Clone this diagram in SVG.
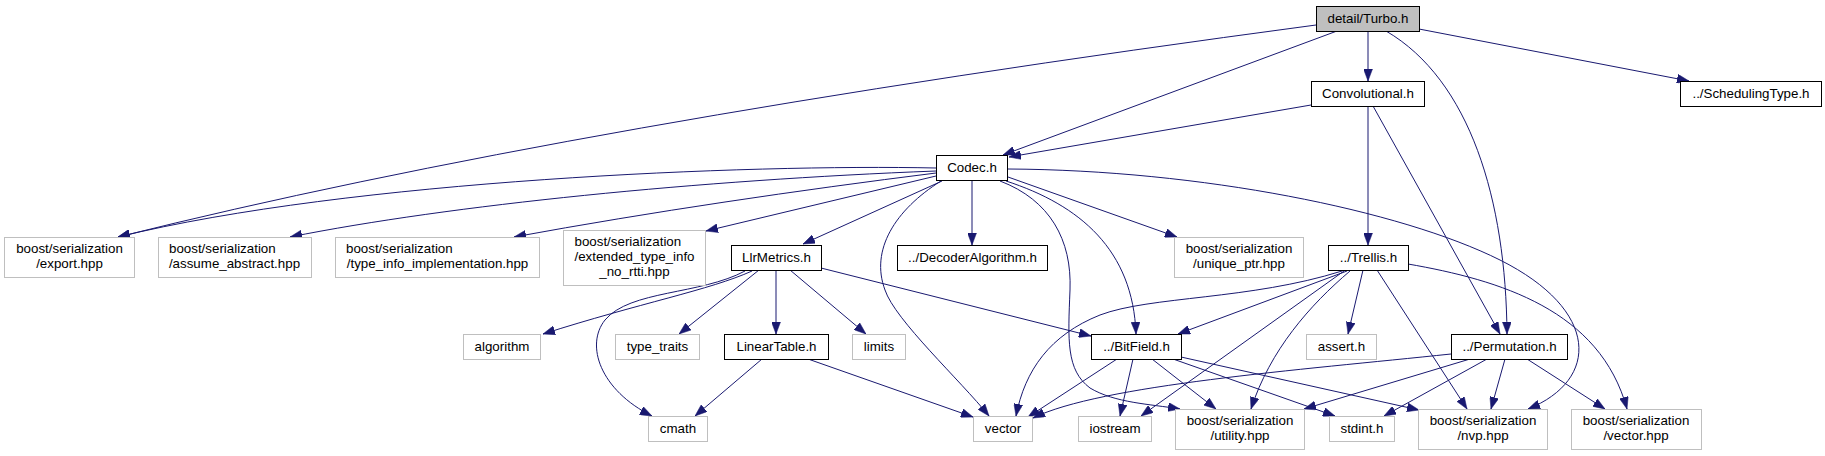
<svg xmlns="http://www.w3.org/2000/svg" width="1825" height="456" viewBox="0 0 1825 456">
<style>
.n rect{fill:#fff;stroke:#000;stroke-width:1}
.g rect{fill:#fff;stroke:#bfbfbf;stroke-width:1}
.root rect{fill:#bfbfbf;stroke:#000;stroke-width:1}
text{font-family:"Liberation Sans",Arial,Helvetica,sans-serif;font-size:13.33px;fill:#000}
.c{text-anchor:middle}
#edges path{fill:none;stroke:#191970;stroke-width:1;marker-end:url(#arr)}
</style>
<defs>
<marker id="arr" markerUnits="userSpaceOnUse" markerWidth="12" markerHeight="9" viewBox="0 0 12 9" refX="12" refY="4.5" orient="auto">
<path d="M0,0 L12,4.5 L0,9 z" fill="#191970" stroke="#191970" stroke-width="0.5"/>
</marker>
</defs>
<rect width="1825" height="456" fill="#fff"/>
<g id="edges">
<path d="M1316,25 Q566,125 118,237"/>
<path d="M936,168 C750,164 350,180 118,237"/>
<path d="M936,171 C700,180 450,205 290,237"/>
<path d="M936,173 C800,190 650,212 514,237"/>
<path d="M936,176 L706,231"/>
<path d="M942,181 L803,244"/>
<path d="M941,181 C895,210 870,250 885,290 C895,320 960,380 989,416"/>
<path d="M972,181 L972,245"/>
<path d="M1000,181 C1050,200 1072,240 1070,290 C1068,340 1066,370 1090,388 C1115,403 1150,404 1180,409"/>
<path d="M1006,181 C1080,205 1133,250 1136,334"/>
<path d="M1008,177 L1177,237"/>
<path d="M1008,169 C1200,170 1400,210 1500,260 C1600,310 1600,380 1528,409"/>
<path d="M1337,31 L1003,155"/>
<path d="M1311,105 L1009,157"/>
<path d="M1368,31 L1368,81"/>
<path d="M1386,31 C1470,80 1506,200 1507,334"/>
<path d="M1419,29 L1689,81"/>
<path d="M1368,106 L1368,245"/>
<path d="M1373,106 L1500,334"/>
<path d="M752,271 C710,290 640,303 543,334"/>
<path d="M745,271 C700,295 630,290 605,320 C585,345 600,390 652,416"/>
<path d="M759,270 L679,334"/>
<path d="M776,270 L776,334"/>
<path d="M790,270 L866,334"/>
<path d="M821,268 L1091,336"/>
<path d="M762,359 L695,416"/>
<path d="M808,359 L973,417"/>
<path d="M1347,271 L1178,334"/>
<path d="M1342,271 C1250,300 1150,296 1100,315 C1050,335 1025,370 1016,416"/>
<path d="M1344,271 L1141,416"/>
<path d="M1350,271 C1310,305 1270,350 1251,409"/>
<path d="M1363,270 L1348,334"/>
<path d="M1377,270 L1467,409"/>
<path d="M1408,264 C1500,280 1600,310 1627,409"/>
<path d="M1117,359 L1028,417"/>
<path d="M1133,359 L1120,416"/>
<path d="M1152,359 L1216,409"/>
<path d="M1173,359 L1335,416"/>
<path d="M1181,357 L1419,410"/>
<path d="M1451,354 C1300,370 1100,385 1033,418"/>
<path d="M1470,359 L1304,409"/>
<path d="M1487,359 L1384,416"/>
<path d="M1505,359 L1491,409"/>
<path d="M1527,359 L1605,409"/>
</g>
<g id="turbo" class="root"><rect x="1316.5" y="6.5" width="103" height="25"/><text class="c" x="1368" y="23">detail/Turbo.h</text></g>
<g id="conv" class="n"><rect x="1311.5" y="81.5" width="113" height="25"/><text class="c" x="1368" y="98">Convolutional.h</text></g>
<g id="sched" class="n"><rect x="1680.5" y="81.5" width="141" height="25"/><text class="c" x="1751" y="98">../SchedulingType.h</text></g>
<g id="codec" class="n"><rect x="936.5" y="155.5" width="71" height="25"/><text class="c" x="972" y="172">Codec.h</text></g>
<g id="export" class="g"><rect x="4.5" y="237.5" width="130" height="40"/><text class="c" x="69.5" y="253">boost/serialization</text><text class="c" x="69.5" y="268">/export.hpp</text></g>
<g id="assume" class="g"><rect x="158.5" y="237.5" width="153" height="40"/><text x="169" y="253">boost/serialization</text><text class="c" x="234.5" y="268">/assume_abstract.hpp</text></g>
<g id="typeinfo" class="g"><rect x="335.5" y="237.5" width="204" height="40"/><text x="346" y="253">boost/serialization</text><text class="c" x="437.5" y="268">/type_info_implementation.hpp</text></g>
<g id="extended" class="g"><rect x="563.5" y="230.5" width="142" height="55"/><text x="574.5" y="246">boost/serialization</text><text class="c" x="634.5" y="261">/extended_type_info</text><text class="c" x="634.5" y="276">_no_rtti.hpp</text></g>
<g id="llr" class="n"><rect x="731.5" y="245.5" width="90" height="25"/><text class="c" x="776.5" y="262">LlrMetrics.h</text></g>
<g id="decoder" class="n"><rect x="897.5" y="245.5" width="150" height="25"/><text class="c" x="972.5" y="262">../DecoderAlgorithm.h</text></g>
<g id="unique" class="g"><rect x="1174.5" y="237.5" width="129" height="40"/><text class="c" x="1239" y="253">boost/serialization</text><text class="c" x="1239" y="268">/unique_ptr.hpp</text></g>
<g id="trellis" class="n"><rect x="1328.5" y="245.5" width="80" height="25"/><text class="c" x="1368.5" y="262">../Trellis.h</text></g>
<g id="algorithm" class="g"><rect x="463.5" y="334.5" width="77" height="25"/><text class="c" x="502" y="351">algorithm</text></g>
<g id="typetraits" class="g"><rect x="615.5" y="334.5" width="84" height="25"/><text class="c" x="657.5" y="351">type_traits</text></g>
<g id="lineartable" class="n"><rect x="724.5" y="334.5" width="104" height="25"/><text class="c" x="776.5" y="351">LinearTable.h</text></g>
<g id="limits" class="g"><rect x="852.5" y="334.5" width="53" height="25"/><text class="c" x="879" y="351">limits</text></g>
<g id="bitfield" class="n"><rect x="1091.5" y="334.5" width="90" height="25"/><text class="c" x="1136.5" y="351">../BitField.h</text></g>
<g id="assert" class="g"><rect x="1306.5" y="334.5" width="70" height="25"/><text class="c" x="1341.5" y="351">assert.h</text></g>
<g id="permutation" class="n"><rect x="1451.5" y="334.5" width="116" height="25"/><text class="c" x="1509.5" y="351">../Permutation.h</text></g>
<g id="cmath" class="g"><rect x="648.5" y="416.5" width="59" height="25"/><text class="c" x="678" y="433">cmath</text></g>
<g id="vector" class="g"><rect x="973.5" y="416.5" width="59" height="25"/><text class="c" x="1003" y="433">vector</text></g>
<g id="iostream" class="g"><rect x="1078.5" y="416.5" width="73" height="25"/><text class="c" x="1115" y="433">iostream</text></g>
<g id="utility" class="g"><rect x="1175.5" y="409.5" width="129" height="40"/><text class="c" x="1240" y="425">boost/serialization</text><text class="c" x="1240" y="440">/utility.hpp</text></g>
<g id="stdint" class="g"><rect x="1329.5" y="416.5" width="65" height="25"/><text class="c" x="1362" y="433">stdint.h</text></g>
<g id="nvp" class="g"><rect x="1418.5" y="409.5" width="129" height="40"/><text class="c" x="1483" y="425">boost/serialization</text><text class="c" x="1483" y="440">/nvp.hpp</text></g>
<g id="vectorhpp" class="g"><rect x="1571.5" y="409.5" width="130" height="40"/><text class="c" x="1636" y="425">boost/serialization</text><text class="c" x="1636" y="440">/vector.hpp</text></g>
</svg>
